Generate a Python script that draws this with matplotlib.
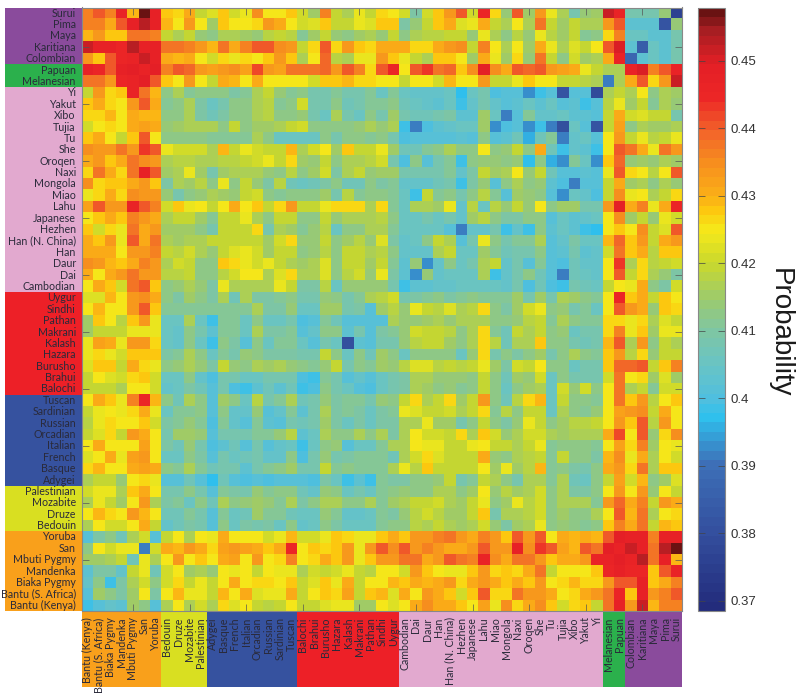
"""Pairwise probability heatmap between 53 populations, symmetric about the anti-diagonal."""
import numpy as np
import matplotlib
matplotlib.use("Agg")
import matplotlib.pyplot as plt
from matplotlib.colors import LinearSegmentedColormap
from matplotlib.patches import Rectangle

plt.rcParams["font.family"] = ["Lato", "DejaVu Sans"]

ROW_LABELS = ["Surui", "Pima", "Maya", "Karitiana", "Colombian", "Papuan", "Melanesian",
              "Yi", "Yakut", "Xibo", "Tujia", "Tu", "She", "Oroqen", "Naxi", "Mongola", "Miao",
              "Lahu", "Japanese", "Hezhen", "Han (N. China)", "Han", "Daur", "Dai", "Cambodian",
              "Uygur", "Sindhi", "Pathan", "Makrani", "Kalash", "Hazara", "Burusho", "Brahui", "Balochi",
              "Tuscan", "Sardinian", "Russian", "Orcadian", "Italian", "French", "Basque", "Adygei",
              "Palestinian", "Mozabite", "Druze", "Bedouin",
              "Yoruba", "San", "Mbuti Pygmy", "Mandenka", "Biaka Pygmy", "Bantu (S. Africa)", "Bantu (Kenya)"]

GROUP_SIZES = [5, 2, 18, 9, 8, 4, 7]
GROUP_COLORS = ["#8a4b9c", "#2bb04c", "#e2a9cf", "#ed2027", "#36529f", "#d9df21", "#f9a01b"]

# thousandths of probability; each row runs from the left column up to its own diagonal cell
surui = [436,441,436,446,429,457,447,428,426,430,420,422,428,421,424,435,425,425,428,
         421,415,436,420,417,424,420,427,425,421,410,421,428,433,441,421,445,427,414,441,
         415,433,423,416,409,414,415,451,446,408,409,409,414,376]
pima = [436,436,431,441,447,453,448,429,425,434,425,415,428,425,425,426,434,430,425,
        421,422,428,420,420,423,422,428,428,410,414,420,428,430,422,423,430,420,416,425,
        416,438,420,415,420,417,417,433,440,403,403,403,382]
maya = [429,433,428,428,437,438,436,419,417,420,414,412,417,417,415,414,418,419,418,
        411,415,420,414,413,415,416,414,419,412,417,418,418,419,420,414,424,417,413,418,
        414,424,418,415,419,411,412,427,436,405,405,403]
karitiana = [452,448,447,445,453,448,448,437,437,436,433,429,438,430,436,441,441,435,434,
             419,426,441,427,434,428,427,430,430,430,427,427,431,433,435,420,436,425,417,425,
             415,430,423,417,422,419,425,441,450,403,385]
colombian = [434,428,441,444,446,452,448,431,429,430,425,421,427,423,426,425,428,434,428,
             417,425,439,418,417,424,424,434,428,423,420,417,428,428,425,415,431,423,415,426,
             414,437,420,413,421,415,417,430,446,388]
papuan = [448,445,441,448,449,446,449,436,440,439,433,432,434,435,432,442,433,432,437,
          438,437,439,433,440,436,427,440,444,425,441,443,438,439,428,435,449,435,431,440,
          439,441,433,432,430,424,419,416,416]
melanesian = [437,437,433,445,446,449,441,428,425,434,425,420,430,429,425,431,425,425,425,
              425,421,428,428,429,427,427,425,425,419,425,425,421,429,425,425,433,420,420,423,
              428,425,425,419,419,418,417,392]
yi = [420,433,426,428,446,438,429,413,416,411,413,412,412,410,411,417,419,414,411,
      413,408,408,411,408,408,411,406,411,406,404,404,404,406,397,405,408,400,402,402,
      393,398,402,382,401,402,379]
yakut = [428,431,426,425,434,440,430,411,413,416,410,406,408,412,413,416,418,411,412,
         421,408,408,412,407,408,411,411,413,407,405,404,403,405,398,404,408,404,401,403,
         406,403,406,402,403,398]
xibo = [426,426,429,425,431,429,429,412,413,416,410,407,410,412,413,416,418,412,413,
        414,408,406,416,408,406,412,409,415,409,407,407,409,410,403,403,415,405,391,402,
        411,404,404,405,403]
tujia = [421,425,426,425,431,432,431,414,415,416,417,417,412,420,412,415,415,416,419,
         421,412,412,413,412,414,417,414,416,398,392,400,403,404,405,405,415,393,400,401,
         393,398,392,381]
tu = [428,430,425,420,428,440,425,413,413,412,412,411,411,411,411,416,412,406,405,
      405,405,413,409,413,412,411,412,409,400,401,402,402,402,403,402,412,402,403,407,
      396,407,411]
she = [435,433,434,438,433,443,441,424,421,421,421,417,429,420,424,421,420,419,429,
       416,421,425,415,428,419,419,424,415,407,407,411,413,417,412,413,425,412,414,420,
       412,431]
oroqen = [430,434,428,430,437,435,434,417,418,418,416,416,418,418,420,421,423,420,426,
          415,414,420,412,416,416,418,421,408,400,412,401,409,411,398,412,414,414,412,414,
          397]
naxi = [427,438,431,427,437,447,440,415,416,423,415,409,415,416,417,417,414,412,418,
        413,415,421,410,416,419,414,415,415,408,408,408,409,411,404,410,420,415,417,425]
mongola = [435,426,428,428,431,434,428,410,416,415,418,412,424,412,420,414,410,418,407,
           406,407,410,412,407,407,413,410,411,404,404,404,407,408,399,410,414,402,412]
miao = [423,426,431,427,435,434,434,414,408,413,414,416,415,414,419,421,412,411,412,
        412,413,415,408,418,411,412,412,411,405,398,420,411,412,409,413,418,411]
lahu = [432,440,434,434,446,441,436,421,428,424,425,420,425,430,425,428,419,427,433,
        419,420,423,426,426,426,417,426,411,406,416,416,415,423,404,418,405]
japanese = [425,428,431,428,436,433,431,417,420,420,415,411,420,419,424,417,413,420,420,
            413,413,419,414,416,416,416,418,412,406,406,408,406,408,404,415]
hezhen = [428,421,426,424,437,431,434,415,415,415,413,409,419,419,419,426,409,416,415,
          411,414,418,406,412,412,416,416,411,406,406,405,405,401,392]
han_n_china = [431,428,433,424,441,431,437,416,415,416,416,419,420,420,420,420,415,421,427,
               414,414,419,412,415,418,414,422,410,404,405,412,419,416]
han = [430,431,431,425,434,434,436,420,418,421,417,414,419,422,424,421,415,419,419,
       413,414,418,412,419,419,417,418,412,404,404,404,416]
daur = [435,434,429,428,431,436,434,416,421,419,413,413,428,426,424,421,424,420,417,
        415,416,422,412,420,420,415,420,411,403,414,393]
dai = [431,425,431,433,438,434,434,418,418,420,413,412,418,421,425,425,417,422,426,
       416,416,422,412,418,421,414,423,410,403,393]
cambodian = [425,430,428,421,437,441,428,412,414,416,414,410,423,417,416,416,416,424,419,
             410,410,418,406,414,414,414,414,409,398]
uygur = [422,422,429,425,433,435,431,413,410,415,413,410,416,407,416,410,410,411,412,
         408,409,414,413,408,411,416,418,421]
sindhi = [425,429,425,425,433,440,428,411,411,411,411,411,411,411,411,417,410,410,414,
          405,405,415,415,408,410,402,415]
pathan = [415,428,425,418,428,433,424,406,406,417,405,399,411,411,405,412,406,406,408,
          400,401,411,407,402,402,402]
makrani = [415,419,419,420,424,424,424,406,404,413,409,403,411,411,405,417,410,410,411,
           402,404,413,412,403,408]
kalash = [423,432,430,423,433,434,426,405,404,412,405,398,412,410,402,413,405,411,411,
          405,402,409,405,381]
hazara = [424,426,424,421,428,428,428,410,411,416,412,406,411,409,414,412,410,410,410,
          409,408,419,412]
burusho = [422,428,428,420,431,427,424,413,414,417,414,410,419,414,413,416,415,416,414,
           412,411,414]
brahui = [420,425,422,421,426,428,421,406,406,412,404,400,408,408,405,406,408,408,408,
          400,398]
balochi = [420,420,419,417,425,425,421,404,405,410,407,402,408,400,399,403,407,403,407,399]
tuscan = [425,431,428,424,436,445,429,412,407,417,412,402,415,413,406,418,409,411,416]
sardinian = [420,424,425,424,426,431,424,405,411,411,413,401,413,404,404,414,402,404]
russian = [418,423,426,425,425,428,421,410,411,414,411,400,411,404,402,411,403]
orcadian = [419,422,427,419,433,431,425,409,415,415,414,402,409,409,409,411]
italian = [425,431,425,425,425,432,425,410,407,414,408,400,403,407,401]
french = [422,425,431,423,432,433,425,406,406,413,410,402,408,405]
basque = [426,429,425,425,430,432,431,412,411,416,411,407,409]
adygei = [416,420,420,414,425,427,423,402,402,407,402,397]
palestinian = [421,423,424,416,428,431,425,408,409,412,408]
mozabite = [416,423,420,415,425,434,417,410,411,406]
druze = [425,429,427,425,433,429,425,407,407]
bedouin = [417,425,421,421,425,431,420,404]
yoruba = [401,410,413,407,416,421,401]
san = [412,425,421,424,423,391]
mbuti = [415,415,417,419,407]
mandenka = [403,410,410,404]
biaka = [404,412,398]
bantu_s_africa = [402,415]
bantu_kenya = [398]

ROWS = [surui, pima, maya, karitiana, colombian, papuan, melanesian, yi, yakut, xibo, tujia, tu,
        she, oroqen, naxi, mongola, miao, lahu, japanese, hezhen, han_n_china, han, daur, dai,
        cambodian, uygur, sindhi, pathan, makrani, kalash, hazara, burusho, brahui, balochi,
        tuscan, sardinian, russian, orcadian, italian, french, basque, adygei, palestinian,
        mozabite, druze, bedouin, yoruba, san, mbuti, mandenka, biaka, bantu_s_africa, bantu_kenya]

COLOR_STOPS = [(0.3685, "#232c7c"), (0.38, "#34509f"), (0.39, "#3d70b8"), (0.397, "#2fc1ee"),
               (0.40, "#52bfdd"), (0.405, "#69c4c4"), (0.41, "#7fc6a3"), (0.415, "#9ecb6a"),
               (0.42, "#c8d82e"), (0.425, "#f5e91a"), (0.428, "#fdc90f"), (0.43, "#fbb116"),
               (0.435, "#f7901e"), (0.44, "#f2632a"), (0.445, "#ec2626"), (0.45, "#e41f26"),
               (0.455, "#a81e22"), (0.4579, "#6a1212")]
VMIN, VMAX = COLOR_STOPS[0][0], COLOR_STOPS[-1][0]
CBAR_TICKS = [0.37, 0.38, 0.39, 0.40, 0.41, 0.42, 0.43, 0.44, 0.45]
CBAR_TICKLABELS = ["0.37", "0.38", "0.39", "0.4", "0.41", "0.42", "0.43", "0.44", "0.45"]


def build_matrix():
    n = len(ROWS)
    mat = np.zeros((n, n))
    for r, row in enumerate(ROWS):
        for k, v in enumerate(row):
            mat[r, k] = v / 1000
            mat[n - 1 - k, n - 1 - r] = v / 1000
    return mat


def axes_px(fig, x0, y0, x1, y1):
    W, H = fig.get_size_inches() * fig.dpi
    return fig.add_axes([x0 / W, 1 - y1 / H, (x1 - x0) / W, (y1 - y0) / H])


def main():
    mat = build_matrix()
    n = len(ROWS)

    stops = [((v - VMIN) / (VMAX - VMIN), c) for v, c in COLOR_STOPS]
    cmap = LinearSegmentedColormap.from_list("prob", stops, N=64)

    fig = plt.figure(figsize=(8.0, 6.93), dpi=100)
    ax = axes_px(fig, 82, 7.5, 682, 611)
    im = ax.imshow(mat, cmap=cmap, vmin=VMIN, vmax=VMAX, aspect="auto", interpolation="nearest")

    tick_pos = list(range(3, n, 5))
    ax.set_yticks(tick_pos)
    ax.set_xticks([n - 1 - t for t in tick_pos])
    ax.set_xticklabels([])
    ax.set_yticklabels([])
    ax.tick_params(direction="in", length=5, width=0.5, color="#555555",
                   top=True, right=True, bottom=True, left=True)
    for sp in ax.spines.values():
        sp.set_color("#888888")
        sp.set_linewidth(0.8)

    # colour blocks behind the labels, left and below
    pos = -0.5
    for size, color in zip(GROUP_SIZES, GROUP_COLORS):
        ax.add_patch(Rectangle((-7.27, pos), 6.77, size, facecolor=color, edgecolor="none",
                               clip_on=False, zorder=1))
        ax.add_patch(Rectangle((n - 0.5 - (pos + 0.5) - size, n - 0.5), size, 6.68, facecolor=color,
                               edgecolor="none", clip_on=False, zorder=1))
        pos += size

    for r, name in enumerate(ROW_LABELS):
        ax.text(-1.05, r, name, ha="right", va="center", fontsize=7.7, color="#2a2a3a", zorder=3)
        ax.text(n - 1 - r, n + 0.05, name, rotation=90, ha="center", va="top", fontsize=7.7,
                color="#2a2a3a", zorder=3)

    cax = axes_px(fig, 698, 7.5, 724.5, 611)
    cb = fig.colorbar(im, cax=cax)
    cb.set_ticks(CBAR_TICKS)
    cb.set_ticklabels(CBAR_TICKLABELS)
    cb.ax.tick_params(direction="in", length=5, width=0.5, color="#444444", left=True, right=True,
                      labelsize=9.5, labelcolor="#333333", pad=4)
    for label in cb.ax.get_yticklabels():
        label.set_family(["Liberation Sans", "DejaVu Sans"])
    cb.outline.set_edgecolor("#888888")
    cb.outline.set_linewidth(0.8)

    fig.text(780 / 800, 1 - 333 / 693, "Probability", rotation=270, ha="center", va="center",
             fontsize=20, color="#1a1a1a", family=["Liberation Sans", "DejaVu Sans"])

    fig.savefig("out.png", dpi=100)
    plt.close(fig)


if __name__ == "__main__":
    main()
